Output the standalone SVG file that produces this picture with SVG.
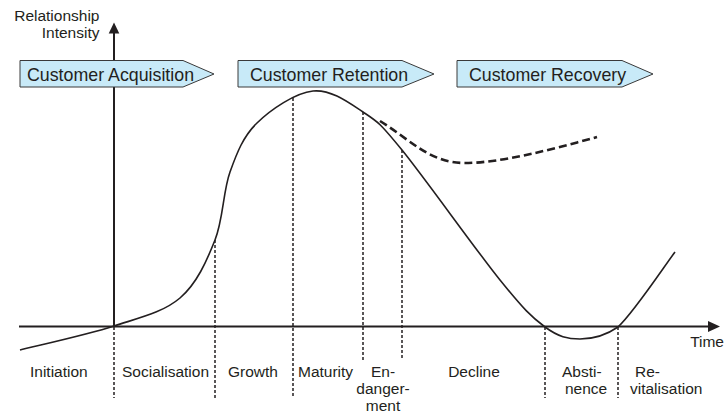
<svg xmlns="http://www.w3.org/2000/svg" width="728" height="417" viewBox="0 0 728 417">
<style>
text{font-family:"Liberation Sans",Arial,sans-serif;fill:#231f20}
.lbl{font-size:15.5px}
.ban{font-size:17.8px}
.banner{fill:#c8eaf8;stroke:#3a3a3a;stroke-width:1}
.axis{stroke:#231f20;stroke-width:2;fill:none}
.vd{stroke:#231f20;stroke-width:1.5;stroke-dasharray:3 2;fill:none}
.curve{stroke:#231f20;stroke-width:1.6;fill:none}
.dcurve{stroke:#231f20;stroke-width:2.6;stroke-dasharray:8 4;fill:none}
</style>
<rect width="728" height="417" fill="#ffffff"/>
<g id="axes">
<line class="axis" x1="114" y1="33" x2="114" y2="326.5"/>
<polygon points="114,22.5 108.7,33.5 119.3,33.5" fill="#231f20"/>
<line class="axis" x1="19" y1="326.5" x2="709" y2="326.5"/>
<polygon points="720,326.5 708,321 708,332" fill="#231f20"/>
<text class="lbl" x="99.5" y="21" text-anchor="end">Relationship</text>
<text class="lbl" x="99.5" y="38" text-anchor="end">Intensity</text>
<text class="lbl" x="724" y="347" text-anchor="end">Time</text>
</g>
<g id="banner-acquisition">
<polygon class="banner" points="20,60.5 183,60.5 214,74 183,87 20,87"/>
<text class="ban" x="27" y="81">Customer Acquisition</text>
</g>
<g id="banner-retention">
<polygon class="banner" points="238,60.5 402,60.5 434,74 402,87 238,87"/>
<text class="ban" x="250" y="81">Customer Retention</text>
</g>
<g id="banner-recovery">
<polygon class="banner" points="457,60.5 622,60.5 653,74 622,87 457,87"/>
<text class="ban" x="469" y="81">Customer Recovery</text>
</g>
<g id="connectors">
<line class="vd" x1="114" y1="327" x2="114" y2="398"/>
<line class="vd" x1="215" y1="240" x2="215" y2="398"/>
<line class="vd" x1="293" y1="98" x2="293" y2="398"/>
<line class="vd" x1="363" y1="112" x2="363" y2="360"/>
<line class="vd" x1="402" y1="150" x2="402" y2="360"/>
<line class="vd" x1="545" y1="327" x2="545" y2="398"/>
<line class="vd" x1="618" y1="327" x2="618" y2="398"/>
<path class="curve" d="M20,350 C35.7,346 87.3,334.7 114,326 C140.7,317.3 163.2,312.3 180,298 C196.8,283.7 206.7,261 215,240 C223.3,219 223,191.5 230,172 C237,152.5 243.2,136.5 257,123 C270.8,109.5 295.3,92.8 313,91 C330.7,89.2 348.2,102.2 363,112 C377.8,121.8 379.2,122 402,150 C424.8,178 476.2,250.5 500,280 C523.8,309.5 531.7,317.2 545,327 C558.3,336.8 567.8,339 580,339 C592.2,339 605,336 618,327 C633.8,312.5 665.5,264.5 675,252"/>
<path class="dcurve" d="M380,121 C412,141 430,163 465,163 C500,163 550,150 597,137"/>
</g>
<g id="phase-labels">
<text class="lbl" x="30" y="377">Initiation</text>
<text class="lbl" x="122" y="377">Socialisation</text>
<text class="lbl" x="228" y="377">Growth</text>
<text class="lbl" x="298" y="377">Maturity</text>
<text class="lbl" x="383" y="377" text-anchor="middle">En-</text>
<text class="lbl" x="383" y="394" text-anchor="middle">danger-</text>
<text class="lbl" x="383" y="411" text-anchor="middle">ment</text>
<text class="lbl" x="474" y="377" text-anchor="middle">Decline</text>
<text class="lbl" x="562" y="377">Absti-</text>
<text class="lbl" x="565" y="394">nence</text>
<text class="lbl" x="635" y="377">Re-</text>
<text class="lbl" x="630" y="394">vitalisation</text>
</g>
</svg>
